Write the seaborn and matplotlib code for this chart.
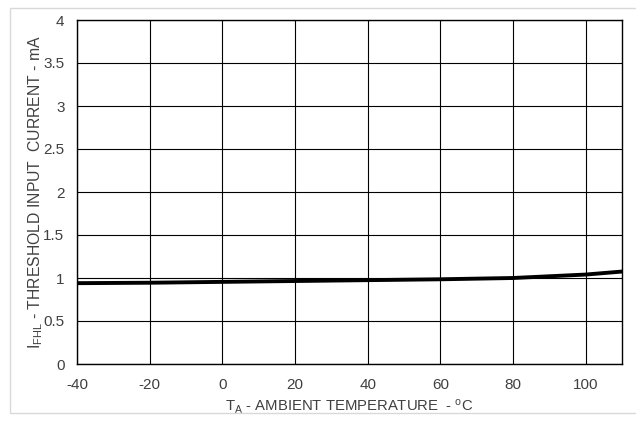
import matplotlib
matplotlib.use("Agg")
import matplotlib.pyplot as plt
import seaborn as sns
import pandas as pd
from matplotlib.patches import Rectangle

# Threshold input current vs ambient temperature
TEMP_C = [-40, -20, 0, 20, 40, 60, 80, 100, 110]
I_FHL_MA = [0.94, 0.945, 0.955, 0.965, 0.975, 0.985, 1.0, 1.04, 1.075]

X_TICKS = [-40, -20, 0, 20, 40, 60, 80, 100]
Y_TICKS = [0, 0.5, 1, 1.5, 2, 2.5, 3, 3.5, 4]
Y_TICK_LABELS = ["0", "0.5", "1", "1.5", "2", "2.5", "3", "3.5", "4"]

TEXT_COLOR = "#404040"

sns.set_theme(style="white")
plt.rcParams["font.family"] = ["Liberation Sans", "DejaVu Sans"]
plt.rcParams["mathtext.default"] = "regular"
plt.rcParams["axes.unicode_minus"] = False

df = pd.DataFrame({"temp": TEMP_C, "current": I_FHL_MA})

fig = plt.figure(figsize=(6.36, 4.21), dpi=100)
fig.patches.append(Rectangle((10 / 636, 8 / 421), 1.0, 405 / 421,
                             transform=fig.transFigure, fill=False,
                             edgecolor="#d9d9d9", linewidth=1))
ax = fig.add_axes([77 / 636, 57 / 421, 545 / 636, 344 / 421])

sns.lineplot(data=df, x="temp", y="current", ax=ax, color="black", linewidth=2.8)

ax.set_xlim(-40, 110)
ax.set_ylim(0, 4)
ax.set_xticks(X_TICKS)
ax.set_yticks(Y_TICKS)
ax.set_yticklabels(Y_TICK_LABELS)
ax.grid(True, color="black", linewidth=0.8)
ax.tick_params(axis="both", length=0, labelsize=11, labelcolor=TEXT_COLOR)
ax.tick_params(axis="x", pad=10)
ax.tick_params(axis="y", pad=9)
for spine in ax.spines.values():
    spine.set_color("black")
    spine.set_linewidth(1)

ax.set_xlabel("T$_A$ - AMBIENT TEMPERATURE  - $^o$C", fontsize=10.75, color=TEXT_COLOR, labelpad=4)
ax.set_ylabel("I$_{FHL}$ - THRESHOLD INPUT  CURRENT - mA", fontsize=11.3, color=TEXT_COLOR, labelpad=-1)

fig.savefig("out.png", dpi=100)
